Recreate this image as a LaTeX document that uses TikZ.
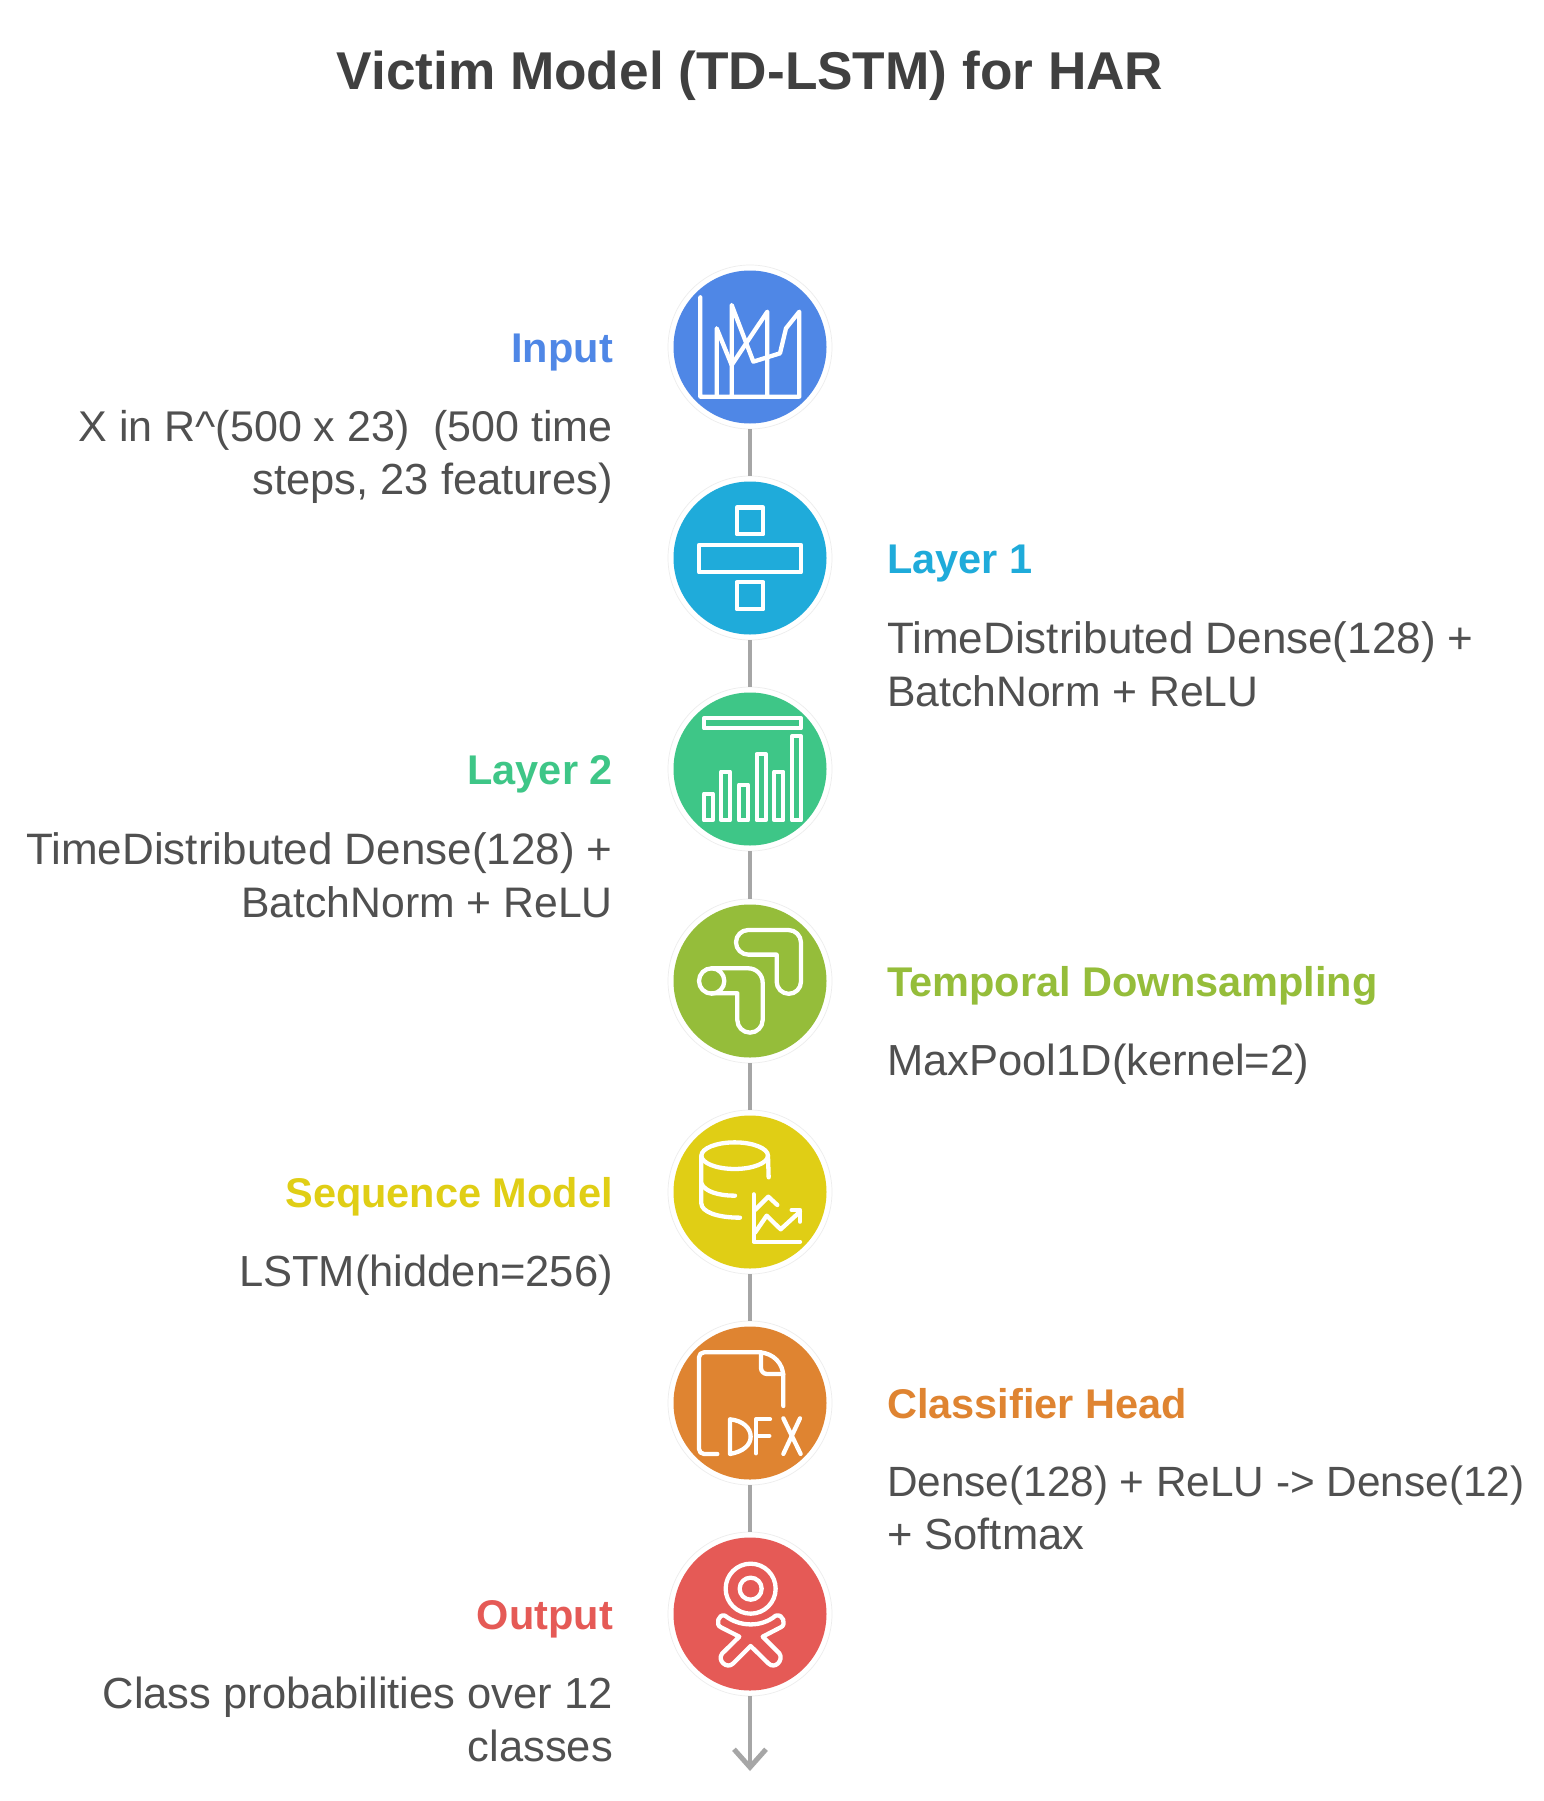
\documentclass[tikz,border=0pt]{standalone}
\usepackage{fontspec}
\setmainfont{Liberation Sans}
\usetikzlibrary{arrows.meta}
\definecolor{cA}{HTML}{4F87E6}
\definecolor{cB}{HTML}{1FABDA}
\definecolor{cC}{HTML}{3EC687}
\definecolor{cD}{HTML}{95BD3A}
\definecolor{cE}{HTML}{E0CE15}
\definecolor{cF}{HTML}{DF8431}
\definecolor{cG}{HTML}{E55A56}
\definecolor{bodytext}{HTML}{505050}
\definecolor{titletext}{HTML}{404040}
\definecolor{linkgray}{HTML}{A6A6A6}
\newcommand{\sizedline}[2]{{\fontsize{#1}{52.8}\selectfont #2}}
\tikzset{
  x=1pt,y=-1pt,
  ring/.style={circle,draw=black!7,line width=0.7pt,fill=white,minimum size=164pt,inner sep=0pt,outer sep=0pt},
  disc/.style={circle,fill=#1,minimum size=153pt,inner sep=0pt},
  link/.style={draw=linkgray,line width=4pt},
  headR/.style={anchor=base east,inner sep=0pt,font=\fontsize{41.5}{41.5}\selectfont\bfseries,text=#1},
  headL/.style={anchor=base west,inner sep=0pt,font=\fontsize{41.5}{41.5}\selectfont\bfseries,text=#1},
  bodyR/.style={anchor=north east,align=right,text=bodytext,inner sep=0pt,font=\fontsize{43.5}{52.8}\selectfont},
  bodyL/.style={anchor=north west,align=left,text=bodytext,inner sep=0pt,font=\fontsize{43.5}{52.8}\selectfont},
  icon/.style={x=0.3333pt,y=-0.3333pt,draw=white,line width=4.3pt,line join=round,line cap=round},
}
\begin{document}
\begin{tikzpicture}
\useasboundingbox (0,0) rectangle (1544,1801);
\fill[white] (0,0) rectangle (1544,1801);
\node[text=titletext,font=\fontsize{53.2}{53.2}\selectfont\bfseries,anchor=base] (title) at (750,89) {Victim Model (TD-LSTM) for HAR};

\coordinate (pa) at (750,347);
\coordinate (pb) at (750,558);
\coordinate (pc) at (750,769);
\coordinate (pd) at (750,981);
\coordinate (pe) at (750,1192);
\coordinate (pf) at (750,1403);
\coordinate (pg) at (750,1614);
\coordinate (tipend) at (750,1771);

\node[ring] (ra) at (pa) {};
\node[ring] (rb) at (pb) {};
\node[ring] (rc) at (pc) {};
\node[ring] (rd) at (pd) {};
\node[ring] (re) at (pe) {};
\node[ring] (rf) at (pf) {};
\node[ring] (rg) at (pg) {};
\node[disc=cA] (da) at (pa) {};
\node[disc=cB] (db) at (pb) {};
\node[disc=cC] (dc) at (pc) {};
\node[disc=cD] (dd) at (pd) {};
\node[disc=cE] (de) at (pe) {};
\node[disc=cF] (df) at (pf) {};
\node[disc=cG] (dg) at (pg) {};

\draw[link] (ra) -- (rb);
\draw[link] (rb) -- (rc);
\draw[link] (rc) -- (rd);
\draw[link] (rd) -- (re);
\draw[link] (re) -- (rf);
\draw[link] (rf) -- (rg);
\draw[link,-{Straight Barb[length=18pt,width=32pt,line width=5pt]}] (rg) -- (tipend);

% labels
\node[headR=cA] (ha) at (613,362) {Input};
\node[bodyR] (ta) at (613,410.5) {\sizedline{43}{X in R\^{}(500 x 23)\ \ (500 time}\\steps, 23 features)};
\node[headL=cB] (hb) at (887,573) {Layer 1};
\node[bodyL] (tb) at (887,621.5) {\sizedline{44}{TimeDistributed Dense(128) +}\\\sizedline{42.7}{BatchNorm + ReLU}};
\node[headR=cC] (hc) at (613,784) {Layer 2};
\node[bodyR] (tc) at (613,832.5) {\sizedline{44}{TimeDistributed Dense(128) +}\\\sizedline{42.7}{BatchNorm + ReLU}};
\node[headL=cD] (hd) at (887,996) {Temporal Downsampling};
\node[bodyL] (td) at (887,1043.5) {MaxPool1D(kernel=2)};
\node[headR=cE] (he) at (613,1207) {Sequence Model};
\node[bodyR] (te) at (613,1254.5) {LSTM(hidden=256)};
\node[headL=cF] (hf) at (887,1418) {Classifier Head};
\node[bodyL] (tf) at (887,1465.5) {\sizedline{42.3}{Dense(128) + ReLU -> Dense(12)}\\+ Softmax};
\node[headR=cG] (hg) at (613,1629) {Output};
\node[bodyR] (tg) at (613,1676.5) {Class probabilities over 12\\classes};

% icon 1
\begin{scope}[shift={(660pt,-260pt)},icon]
\draw (121,112) -- (121,410) -- (418,410) -- (418,155) -- (378,205) -- (360,280) -- (280,305) -- (215,135) -- (215,410);
\draw (170,410) -- (170,205) -- (215,315) -- (322,155) -- (322,410);
\end{scope}
% icon 2
\begin{scope}[shift={(660pt,-260pt)},icon]
\draw (230,743) rectangle (310,823);
\draw (117,855) rectangle (423,937);
\draw (230,967) rectangle (310,1048);
\end{scope}
% icon 3
\begin{scope}[shift={(660pt,-680pt)},icon]
\draw (132,115) rectangle (423,145);
\draw (132,341) rectangle (158,421);
\draw (184,275) rectangle (210,421);
\draw (237,314) rectangle (264,421);
\draw (290,222) rectangle (317,421);
\draw (343,275) rectangle (370,421);
\draw (396,169) rectangle (423,421);
\end{scope}
% icon 4
\begin{scope}[shift={(660pt,-680pt)},icon]
\draw (265,750) -- (385,750) arc[start angle=90,end angle=0,radius=12.67pt] -- (423,905) arc[start angle=0,end angle=-180,radius=12.17pt] -- (350,824) -- (265,824) arc[start angle=-90,end angle=-270,radius=12.33pt] -- cycle;
\draw (155,903) circle[radius=12.67pt];
\draw (155,865) -- (265,865) arc[start angle=90,end angle=0,radius=14.33pt] -- (308,1020) arc[start angle=0,end angle=-180,radius=12.67pt] -- (232,940) -- (155,940);
\end{scope}
% icon 5
\begin{scope}[shift={(660pt,-1100pt)},icon]
\draw (224,167) ellipse[x radius=33.3pt,y radius=13.3pt];
\draw (124,167) -- (124,310) .. controls (124,335) and (170,353) .. (240,353);
\draw (124,250) .. controls (135,275) and (175,287) .. (225,287);
\draw (324,167) -- (326,232);
\draw (281,283) -- (281,425) -- (420,425);
\draw (285,330) -- (325,290) -- (352,315);
\draw (285,398) -- (320,347) -- (362,388) -- (420,335);
\draw (395,330) -- (420,330) -- (420,365);
\end{scope}
% icon 6
\begin{scope}[shift={(660pt,-1100pt)},icon]
\draw[rounded corners=5pt] (172,1062) -- (117,1062) -- (117,757) -- (300,757);
\draw (300,757) .. controls (340,760) and (370,790) .. (370,830) -- (370,918);
\draw[rounded corners=6pt] (303,757) -- (303,822) -- (370,822);
\draw (210,958) -- (210,1062) .. controls (250,1055) and (272,1035) .. (272,1010) .. controls (272,985) and (250,962) .. (210,958);
\draw (330,958) -- (288,958) -- (288,1060);
\draw (288,1008) -- (328,1008);
\draw (420,955) -- (370,1062);
\draw (370,955) -- (422,1062);
\end{scope}
% icon 7
\begin{scope}[shift={(660pt,-1520pt)},icon]
\draw (272,206) circle[radius=25pt];
\draw (272,206) circle[radius=11pt];
\draw (195,287) .. controls (240,322) and (305,322) .. (347,287) .. controls (370,280) and (380,315) .. (362,322) -- (308,350) -- (358,400) .. controls (372,420) and (345,450) .. (325,430) -- (272,378) -- (220,430) .. controls (200,450) and (170,420) .. (187,400) -- (238,350) -- (183,322) .. controls (165,315) and (175,280) .. (195,287) -- cycle;
\end{scope}
\end{tikzpicture}
\end{document}
